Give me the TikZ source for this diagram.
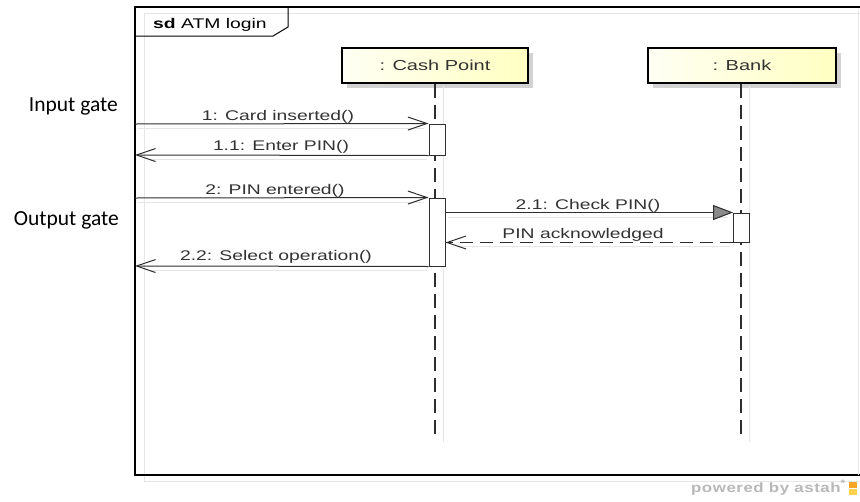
\documentclass[tikz,border=0pt]{standalone}
\usepackage{fontspec}
\setmainfont{Liberation Sans}
\newfontfamily\astahfont[FakeStretch=1.38]{Liberation Sans}
\newfontfamily\creditfont[FakeStretch=1.25,LetterSpace=4]{Liberation Sans}
\newfontfamily\gatefont{Carlito}
\usetikzlibrary{arrows.meta}

\definecolor{ink}{HTML}{2E2E2E}
\definecolor{txt}{HTML}{333333}
\definecolor{faint}{HTML}{E6E6E6}
\definecolor{headshadow}{HTML}{D2D2D2}
\definecolor{headleft}{HTML}{FFFFF4}
\definecolor{headright}{HTML}{FFFFC2}
\definecolor{synctip}{HTML}{8A8A8A}
\definecolor{brand}{HTML}{B8B8B8}
\definecolor{logoA}{HTML}{F5A623}
\definecolor{logoB}{HTML}{FFD24D}

\begin{document}
\begin{tikzpicture}[x=1pt,y=-1pt,
  lifehead/.style={draw=black, line width=2.6pt, left color=headleft, right color=headright,
    minimum width=186pt, minimum height=35pt, inner sep=0pt, text=txt,
    font=\astahfont\fontsize{14.5}{16}\selectfont},
  headshade/.style={fill=headshadow, draw=none},
  lifeline/.style={draw=ink, line width=1.8pt, dash pattern=on 14pt off 7pt},
  lifeshade/.style={draw=faint, line width=1pt},
  activation/.style={draw=ink, fill=white, line width=1pt, minimum width=16pt, inner sep=0pt},
  msg/.style={draw=ink, line width=1pt, -{Straight Barb[length=19pt,width=13pt,line width=1pt]}},
  syncmsg/.style={draw=ink, line width=1pt, -{Triangle[length=20pt,width=15pt,fill=synctip]}},
  replymsg/.style={msg, dash pattern=on 13pt off 7pt},
  msgshade/.style={draw=faint, line width=1pt},
  msglabel/.style={text=txt, anchor=base, inner sep=0pt, font=\astahfont\fontsize{14}{16}\selectfont},
  gatelabel/.style={text=black, anchor=base east, inner sep=0pt, font=\gatefont\fontsize{21.5}{24}\selectfont},
]
\useasboundingbox (0,0) rectangle (860,501);
\clip (0,0) rectangle (860,501);
\fill[white] (0,0) rectangle (860,501);

% interaction frame with its faint offset shadow
\draw[faint, line width=1pt] (144,13) rectangle (867,481);
\draw[black, line width=1.3pt] (860,7) -- (135,7) -- (135,475) -- (860,475);
\draw[faint, line width=1pt] (858,10) -- (858,475);
\draw[black, line width=1pt] (135,36) -- (273,36) -- (288,27) -- (288,7);
\node[anchor=base west, inner sep=0pt, text=black, font=\astahfont\fontsize{14}{16}\selectfont]
  (title) at (153,28) {\textbf{sd} ATM login};

% lifeline heads
\fill[headshade] (347,53) rectangle (533,88);
\fill[headshade] (653,53) rectangle (841,88);
\node[lifehead] (cp) at (435,65.5) {: Cash Point};
\node[lifehead, minimum width=188pt] (bank) at (742,65.5) {: Bank};

% lifelines
\coordinate (cpEnd) at (435,440);
\coordinate (bankEnd) at (741,440);
\draw[lifeshade] (443,86) -- (443,442);
\draw[lifeshade] (749,86) -- (749,442);
\draw[lifeline] (cp.south -| cpEnd) -- (cpEnd);
\draw[lifeline] (bank.south -| bankEnd) -- (bankEnd);

% execution specifications
\node[activation, minimum height=31pt] (a1) at (437,139.5) {};
\node[activation, minimum height=68pt] (a2) at (437,232) {};
\node[activation, minimum height=29pt] (a3) at (741.5,227.5) {};

% gates on the frame border
\coordinate (g1) at (135,124);
\coordinate (g2) at (135,155);
\coordinate (g3) at (135,198);
\coordinate (g4) at (135,266);

% soft shadows under the messages
\draw[msgshade] (138,128) -- (424,128);
\draw[msgshade] (150,159) -- (427,159);
\draw[msgshade] (138,202) -- (424,202);
\draw[msgshade] (448,217) -- (728,217);
\draw[msgshade] (460,246) -- (730,246);
\draw[msgshade] (150,270) -- (427,270);

% messages
\draw[msg] (g1) -- (a1.north west);
\draw[msg] (a1.south west) -- (g2);
\draw[msg] (g3) -- (a2.north west);
\draw[syncmsg] (a3.north west -| a2.east) -- (a3.north west);
\draw[replymsg] (a3.south west) -- (a3.south west -| a2.east);
\draw[msg] (a2.south west) -- (g4);

% message labels
\node[msglabel] (m1) at (278,120) {1: Card inserted()};
\node[msglabel] (m11) at (281,150) {1.1: Enter PIN()};
\node[msglabel] (m2) at (275,194) {2: PIN entered()};
\node[msglabel] (m21) at (588,209) {2.1: Check PIN()};
\node[msglabel] (mack) at (583,238) {PIN acknowledged};
\node[msglabel] (m22) at (276,260) {2.2: Select operation()};

% gate annotations
\node[gatelabel] (inGate) at (118,111) {Input gate};
\node[gatelabel] (outGate) at (119,225) {Output gate};

% tool credit
\node[anchor=base east, inner sep=0pt, text=brand, font=\creditfont\bfseries\fontsize{13.5}{15}\selectfont]
  (credit) at (846,492) {powered by astah\textsuperscript{*}};
\fill[logoA] (849,482) rectangle (857,488);
\fill[logoB] (849,489) rectangle (857,495);
\end{tikzpicture}
\end{document}
